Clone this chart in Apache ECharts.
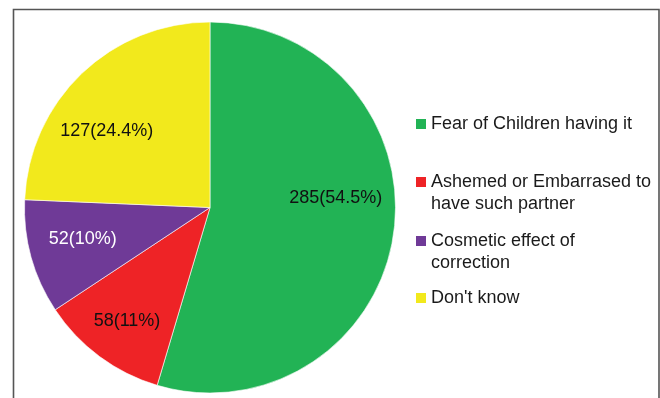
<!DOCTYPE html>
<html>
<head>
<meta charset="utf-8">
<script src="https://cdn.jsdelivr.net/npm/echarts@6/dist/echarts.min.js"></script>
<style>
  html, body { margin: 0; padding: 0; background: #fff; }
  #chart { width: 660px; height: 398px; }
</style>
</head>
<body>
<div id="chart"></div>
<script>
// Reasons given, as wrapped for the legend
const legendLines = [
  ['Fear of Children having it'],
  ['Ashemed or Embarrased to', 'have such partner'],
  ['Cosmetic effect of', 'correction'],
  ["Don't know"]
];
const categories = legendLines.map(l => l.join(' '));
const counts = [285, 58, 52, 127];
const percentLabels = ['54.5%', '11%', '10%', '24.4%'];

const sliceColors = ['#22b355', '#ee2326', '#6f3a97', '#f2e91c'];
const labelColors = ['#111', '#111', '#fff', '#111'];
// shift of each inside label away from the default mid-radius spot
const labelShift = [[31, -23], [-26, 37], [-35, 6], [-37, -7]];
// top of each legend block
const legendTops = [113, 149, 208, 287];

const FONT = '"Liberation Sans", Arial, sans-serif';

const chart = echarts.init(document.getElementById('chart'), null, { renderer: 'canvas' });

const legends = categories.map((name, i) => ({
  show: true,
  orient: 'vertical',
  left: 416,
  top: legendTops[i],
  padding: 0,
  itemWidth: 10,
  itemHeight: 10,
  itemGap: 0,
  icon: 'rect',
  selectedMode: false,
  itemStyle: { borderWidth: 0 },
  data: [name],
  formatter: () => {
    const lines = legendLines[i];
    // a leading blank line keeps the marker beside the first line of text
    return lines.length > 1 ? '\n' + lines.join('\n') : lines[0];
  },
  textStyle: { fontSize: 18, lineHeight: 22, fontFamily: FONT, color: '#1a1a1a' }
}));

chart.setOption({
  animation: false,
  backgroundColor: '#fff',
  graphic: [{
    type: 'rect',
    shape: { x: 13.5, y: 9.5, width: 645.5, height: 420 },
    style: { fill: 'none', stroke: '#555', lineWidth: 1.6 },
    silent: true
  }],
  legend: legends,
  series: [{
    type: 'pie',
    center: [210, 207.5],
    radius: [0, 185.5],
    startAngle: 90,
    clockwise: true,
    silent: true,
    itemStyle: { borderColor: '#fff', borderWidth: 0.6 },
    labelLine: { show: false },
    label: {
      show: true,
      position: 'inside',
      fontSize: 18,
      fontFamily: FONT
    },
    data: categories.map((name, i) => ({
      name,
      value: counts[i],
      itemStyle: { color: sliceColors[i] },
      label: {
        color: labelColors[i],
        offset: labelShift[i],
        formatter: p => p.value + '(' + percentLabels[p.dataIndex] + ')'
      }
    }))
  }]
});
</script>
</body>
</html>
